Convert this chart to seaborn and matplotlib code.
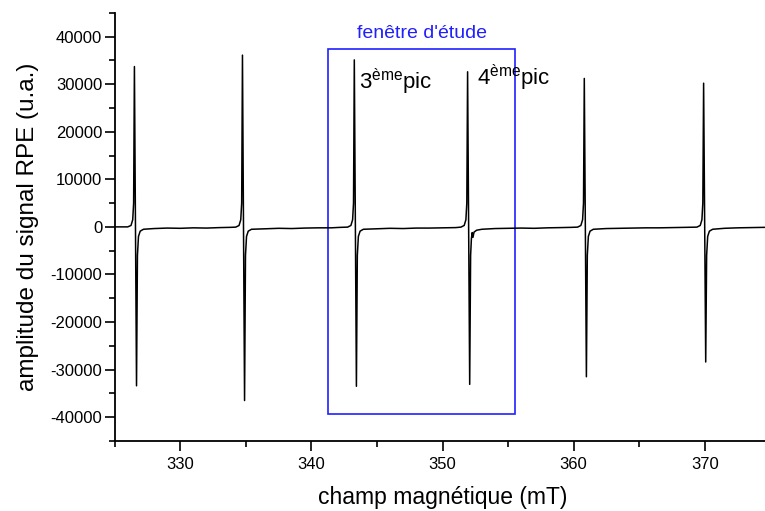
import numpy as np
import pandas as pd
import matplotlib
matplotlib.use("Agg")
import matplotlib.pyplot as plt
from matplotlib.patches import Rectangle
from matplotlib.ticker import MultipleLocator
import seaborn as sns

# ==========================================
# DATA
# ==========================================

# each peak: rise, spike, recovery, then the baseline up to the next peak
peak1_field = [325.0, 325.99, 326.24, 326.37, 326.44, 326.50, 326.66, 326.73, 326.81, 326.94, 327.19,
               328.0, 329.0, 330.0, 331.0, 332.0, 333.0, 333.8]
peak1_signal = [0, 0, 300, 1500, 5000, 33700, -33400, -6000, -2000, -900, -500,
                -350, -250, -300, -200, -250, -150, -100]

peak2_field = [334.23, 334.48, 334.61, 334.68, 334.74, 334.90, 334.97, 335.05, 335.18, 335.43,
               336.5, 337.5, 338.5, 339.5, 340.5, 341.5, 342.2]
peak2_signal = [-50, 300, 1500, 5000, 36100, -36500, -6000, -2000, -900, -500,
                -400, -300, -350, -250, -200, -200, -100]

peak3_field = [342.76, 343.01, 343.14, 343.21, 343.27, 343.43, 343.50, 343.58, 343.71, 343.96,
               345.0, 346.0, 347.0, 348.0, 349.0, 350.0, 351.0]
peak3_signal = [-50, 300, 1500, 5000, 35100, -33500, -6000, -2000, -900, -500,
                -400, -300, -350, -250, -250, -200, -150]

peak4_field = [351.40, 351.65, 351.78, 351.85, 351.91, 352.07, 352.14, 352.20, 352.26, 352.32,
               352.40, 352.6, 353.0, 354.0, 355.0, 356.0, 357.0, 358.0, 359.0, 359.8]
peak4_signal = [-50, 300, 1500, 5000, 32600, -33100, -6000, -2500, -1200, -2200,
                -1100, -700, -500, -350, -300, -250, -300, -200, -150, -100]

peak5_field = [360.30, 360.55, 360.68, 360.75, 360.81, 360.97, 361.04, 361.12, 361.25, 361.5,
               362.5, 363.5, 364.5, 365.5, 366.5, 367.5, 368.5]
peak5_signal = [-50, 300, 1500, 5000, 31200, -31500, -6000, -2000, -900, -500,
                -350, -300, -250, -200, -200, -150, -100]

peak6_field = [369.40, 369.65, 369.78, 369.85, 369.91, 370.07, 370.14, 370.22, 370.35, 370.6,
               371.5, 372.5, 373.5, 374.5, 375.5]
peak6_signal = [-50, 300, 1500, 5000, 30200, -28400, -6000, -2000, -900, -500,
                -300, -200, -150, -100, -100]

# study window (field range, signal range)
box_field = [341.26, 355.52]
box_signal = [-39300, 37300]

# ==========================================
# BUILD TABLE
# ==========================================

df = pd.DataFrame({
    "champ": peak1_field + peak2_field + peak3_field + peak4_field + peak5_field + peak6_field,
    "signal": peak1_signal + peak2_signal + peak3_signal + peak4_signal + peak5_signal + peak6_signal,
})

# ==========================================
# PLOT
# ==========================================

sns.set_style("ticks")
plt.rcParams["font.family"] = ["Liberation Sans", "DejaVu Sans"]
plt.rcParams["mathtext.fontset"] = "custom"
plt.rcParams["mathtext.rm"] = "Liberation Sans"
plt.rcParams["axes.unicode_minus"] = False
plt.rcParams["text.color"] = "black"
plt.rcParams["axes.labelcolor"] = "black"
plt.rcParams["xtick.color"] = "black"
plt.rcParams["ytick.color"] = "black"
plt.rcParams["axes.edgecolor"] = "black"

fig = plt.figure(figsize=(7.65, 5.11), dpi=100)
ax = fig.add_axes([0.150, 0.137, 0.857, 0.838])

sns.lineplot(
    data=df,
    x="champ",
    y="signal",
    color="black",
    linewidth=1.1,
    estimator=None,
    sort=False,
    ax=ax
)

ax.add_patch(Rectangle(
    (box_field[0], box_signal[0]),
    box_field[1] - box_field[0],
    box_signal[1] - box_signal[0],
    fill=False,
    edgecolor="#2020ff",
    linewidth=1.2
))

ax.text(348.4, 39600, "fenêtre d'étude", color="#2020ff", fontsize=14, ha="center", va="baseline")
ax.text(343.6, 28900, "3$^{\\mathrm{ème}}$pic", fontsize=16, ha="left", va="baseline")
ax.text(352.65, 29700, "4$^{\\mathrm{ème}}$pic", fontsize=16, ha="left", va="baseline")

ax.set_xlim(325, 375)
ax.set_ylim(-45000, 45000)
ax.xaxis.set_major_locator(MultipleLocator(10))
ax.xaxis.set_minor_locator(MultipleLocator(5))
ax.yaxis.set_major_locator(MultipleLocator(10000))
ax.yaxis.set_minor_locator(MultipleLocator(5000))
ax.set_xticks(np.arange(330, 371, 10))

ax.tick_params(which="major", direction="out", length=7, width=1.2, labelsize=12)
ax.tick_params(axis="x", which="major", pad=4.5)
ax.tick_params(axis="y", which="major", pad=2)
ax.tick_params(which="minor", direction="out", length=4, width=1.2)

for side in ["top", "right"]:
    ax.spines[side].set_visible(False)
for side in ["left", "bottom"]:
    ax.spines[side].set_linewidth(1.3)

ax.set_xlabel("champ magnétique (mT)", fontsize=16.5, labelpad=10)
ax.set_ylabel("amplitude du signal RPE (u.a.)", fontsize=17.5, labelpad=8)

fig.savefig("out.png", dpi=100)
